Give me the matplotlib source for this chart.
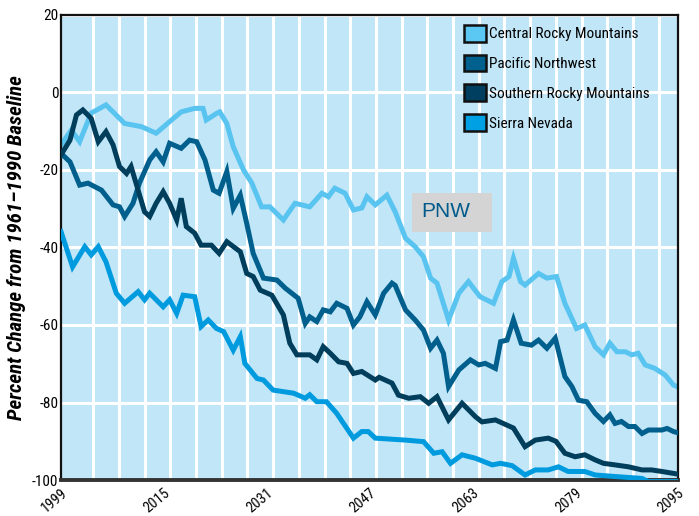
import matplotlib
matplotlib.use("Agg")
import matplotlib.pyplot as plt
from matplotlib import font_manager as fm
from matplotlib.patches import Patch, Rectangle
from matplotlib.ticker import FixedLocator

# ---------------- data ----------------
central_years = [1999.0, 2000.6, 2001.9, 2003.7, 2006.0, 2008.9, 2011.5, 2013.8, 2016.2, 2017.7,
                 2019.8, 2021.1, 2021.6, 2023.2, 2023.7, 2024.8, 2025.8, 2027.4, 2028.7, 2030.2,
                 2031.5, 2033.6, 2035.4, 2037.7, 2039.6, 2040.6, 2041.6, 2043.2, 2044.5, 2045.8,
                 2046.6, 2047.9, 2049.7, 2051.0, 2052.6, 2054.1, 2055.4, 2056.5, 2057.5, 2059.3,
                 2060.9, 2062.4, 2064.2, 2066.3, 2067.6, 2068.7, 2069.4, 2070.5, 2071.2, 2073.3,
                 2074.6, 2076.1, 2077.4, 2079.2, 2080.5, 2082.1, 2083.4, 2084.4, 2085.5, 2086.8,
                 2087.8, 2088.8, 2089.9, 2091.4, 2093.0, 2094.3, 2095.0]
central_vals = [-13.5, -9.7, -12.7, -5.3, -3.2, -8.0, -8.8, -10.5, -7.1, -5.0,
                -4.1, -4.1, -7.1, -5.4, -5.0, -8.0, -14.0, -20.0, -23.4, -29.5,
                -29.5, -32.9, -28.6, -29.5, -26.0, -26.9, -24.7, -26.0, -30.3, -29.8,
                -26.9, -29.0, -26.5, -30.8, -37.6, -39.8, -42.4, -47.9, -49.2, -58.7,
                -51.8, -48.8, -52.7, -54.4, -48.8, -47.5, -42.8, -48.8, -49.7, -46.7,
                -47.9, -47.5, -54.4, -60.9, -60.0, -65.6, -67.7, -64.7, -66.9, -66.9,
                -67.7, -67.3, -70.3, -71.2, -72.9, -75.5, -76.0]

pnw_years = [1999.0, 2000.4, 2001.9, 2003.2, 2005.3, 2007.1, 2008.1, 2008.9, 2010.2, 2011.2,
             2012.8, 2013.8, 2014.9, 2015.9, 2017.7, 2019.0, 2020.1, 2021.4, 2022.7, 2023.6,
             2024.8, 2025.8, 2026.9, 2027.9, 2028.9, 2030.5, 2032.6, 2033.9, 2035.9, 2037.0,
             2037.7, 2038.8, 2039.8, 2040.9, 2041.9, 2043.5, 2044.5, 2045.5, 2046.6, 2047.9,
             2049.2, 2050.5, 2051.0, 2052.6, 2054.1, 2055.4, 2056.5, 2057.5, 2058.5, 2059.3,
             2060.9, 2062.7, 2064.0, 2065.0, 2066.6, 2067.4, 2068.4, 2069.4, 2070.6, 2072.2,
             2073.3, 2074.6, 2075.9, 2077.4, 2078.5, 2079.5, 2080.8, 2082.1, 2083.4, 2084.4,
             2085.2, 2086.2, 2087.3, 2088.3, 2089.4, 2090.4, 2092.5, 2093.3, 2094.3, 2095.0]
pnw_vals = [-15.7, -17.9, -23.9, -23.4, -25.2, -29.0, -29.5, -32.0, -28.6, -23.4,
            -17.4, -15.3, -17.9, -13.1, -14.4, -12.3, -12.7, -17.4, -25.2, -26.0,
            -20.4, -29.9, -26.5, -33.8, -41.5, -47.9, -48.4, -50.5, -53.1, -59.6,
            -57.9, -59.1, -56.1, -56.6, -54.4, -55.7, -60.0, -57.9, -54.0, -57.4,
            -51.8, -49.2, -49.8, -56.1, -58.7, -61.3, -66.0, -63.9, -67.3, -75.9,
            -71.6, -69.0, -70.3, -69.9, -71.2, -64.3, -63.9, -58.7, -64.7, -65.2,
            -63.9, -66.0, -63.4, -73.3, -75.9, -79.4, -79.8, -82.8, -84.9, -83.2,
            -85.4, -84.9, -86.2, -86.2, -88.0, -87.1, -87.1, -86.7, -87.5, -87.8]

south_years = [1999.0, 2000.4, 2001.4, 2002.4, 2003.7, 2004.8, 2006.0, 2007.1, 2008.1, 2009.2,
               2009.9, 2011.0, 2012.0, 2012.8, 2013.8, 2014.9, 2015.9, 2017.0, 2017.7, 2018.5,
               2019.8, 2020.8, 2022.4, 2023.6, 2024.8, 2026.9, 2027.9, 2028.9, 2030.0, 2031.8,
               2033.6, 2034.6, 2035.7, 2037.7, 2038.8, 2039.8, 2040.9, 2042.2, 2043.5, 2044.5,
               2045.8, 2047.9, 2048.5, 2050.5, 2051.5, 2053.1, 2054.9, 2056.2, 2057.5, 2059.3,
               2061.4, 2063.5, 2064.5, 2066.6, 2069.4, 2071.2, 2072.8, 2074.8, 2076.0, 2077.4,
               2079.0, 2080.5, 2082.1, 2083.4, 2085.2, 2087.3, 2089.4, 2090.9, 2092.5, 2094.3,
               2095.0]
south_vals = [-16.1, -12.3, -5.8, -4.5, -6.7, -12.7, -10.1, -13.5, -19.1, -20.9,
              -19.1, -25.2, -30.8, -32.0, -28.6, -25.6, -28.6, -32.9, -27.3, -34.6,
              -36.3, -39.4, -39.4, -41.5, -38.5, -41.1, -46.7, -47.5, -51.0, -52.3,
              -57.4, -64.7, -67.7, -67.7, -69.0, -65.6, -67.3, -69.5, -69.9, -72.5,
              -72.0, -74.2, -73.5, -75.0, -78.1, -78.9, -78.5, -80.2, -78.5, -84.5,
              -80.2, -83.7, -85.0, -84.5, -86.6, -91.4, -89.7, -89.2, -90.0, -93.1,
              -94.0, -93.5, -94.8, -95.7, -96.1, -96.6, -97.4, -97.4, -97.8, -98.3,
              -98.5]

sierra_years = [1999.0, 2000.8, 2002.7, 2003.7, 2004.8, 2006.0, 2007.6, 2008.9, 2011.0, 2012.0,
                2012.8, 2014.9, 2015.9, 2017.0, 2018.0, 2019.8, 2020.8, 2021.9, 2023.2, 2024.3,
                2025.8, 2026.9, 2027.6, 2029.5, 2030.5, 2032.0, 2033.6, 2035.2, 2037.0, 2037.7,
                2038.8, 2040.3, 2041.9, 2044.5, 2045.8, 2046.8, 2047.9, 2052.6, 2055.4, 2057.0,
                2058.3, 2059.6, 2061.4, 2063.5, 2066.1, 2067.4, 2069.2, 2071.2, 2072.8, 2074.8,
                2076.4, 2077.9, 2080.5, 2082.1, 2085.2, 2089.4, 2090.4, 2095.0]
sierra_vals = [-35.9, -45.0, -39.8, -41.9, -39.8, -43.7, -51.8, -54.4, -51.4, -53.5,
               -51.8, -55.3, -53.5, -57.0, -52.3, -52.7, -60.4, -58.7, -60.9, -61.7,
               -66.5, -63.0, -69.9, -73.8, -74.2, -76.8, -77.2, -77.6, -78.9, -78.0,
               -79.8, -79.8, -82.8, -89.2, -87.5, -87.5, -89.2, -89.7, -90.1, -93.1,
               -92.7, -95.7, -93.5, -94.4, -96.1, -95.7, -96.3, -98.7, -97.4, -97.4,
               -96.6, -97.8, -97.8, -98.7, -99.1, -99.6, -100.4, -100.4]

series_names = ["Central Rocky Mountains", "Pacific Northwest",
                "Southern Rocky Mountains", "Sierra Nevada"]
xtick_labels = [1999, 2015, 2031, 2047, 2063, 2079, 2095]
ytick_values = [20, 0, -20, -40, -60, -80, -100]
annotation_text = "PNW"
ylabel_text = "Percent Change from 1961\u20131990 Baseline"

# ---------------- pick a condensed font if one is installed ----------------
_installed = [(f.name, f.stretch) for f in fm.fontManager.ttflist]
_names = {n for n, s in _installed}
narrow_family = None
narrow_stretch = "normal"
for cand in ["Liberation Sans Narrow", "Arial Narrow", "DejaVu Sans Condensed",
             "Roboto Condensed", "Open Sans Condensed", "Noto Sans Condensed"]:
    if cand in _names:
        narrow_family = cand
        break
if narrow_family is None:
    for n, s in _installed:
        if n in ("DejaVu Sans", "Noto Sans", "Open Sans", "Roboto") and "condensed" in str(s):
            narrow_family, narrow_stretch = n, "condensed"
            break
if narrow_family is None:
    narrow_family = "Roboto" if "Roboto" in _names else "DejaVu Sans"
narrow = [narrow_family, "DejaVu Sans"]
is_narrow = narrow_family not in ("Roboto", "DejaVu Sans")
k = 1.0 if is_narrow else 0.85

# ---------------- styling ----------------
c_central = "#5ac4f0"
c_pnw = "#005f8c"
c_south = "#003e5c"
c_sierra = "#009bde"
bg = "#c0e6f8"

fig = plt.figure(figsize=(6.99, 5.16), dpi=100)
ax = fig.add_axes([61 / 699, 1 - 480 / 516, (678 - 61) / 699, (480 - 15) / 516])
ax.set_facecolor(bg)

lw = 3.6
ax.plot(central_years, central_vals, color=c_central, lw=lw, solid_joinstyle="miter", zorder=2)
ax.plot(sierra_years, sierra_vals, color=c_sierra, lw=lw, solid_joinstyle="miter", zorder=3)
ax.plot(pnw_years, pnw_vals, color=c_pnw, lw=lw, solid_joinstyle="miter", zorder=4)
ax.plot(south_years, south_vals, color=c_south, lw=lw, solid_joinstyle="miter", zorder=5)

ax.set_xlim(1999, 2095)
ax.set_ylim(-100, 20)

ax.set_xticks(xtick_labels)
ax.set_xticklabels([str(v) for v in xtick_labels], rotation=40, ha="right",
                   rotation_mode="anchor", family=narrow, stretch=narrow_stretch,
                   fontsize=10.5 * k)
ax.xaxis.set_minor_locator(FixedLocator(list(range(2004, 2095, 4))))
ax.set_yticks(ytick_values)
ax.set_yticklabels([str(v) for v in ytick_values], family=narrow, stretch=narrow_stretch,
                   fontsize=11 * k)
ax.tick_params(axis="both", which="both", length=0)
ax.tick_params(axis="y", pad=2)
ax.tick_params(axis="x", pad=4)

ax.grid(False)
ax.xaxis.grid(True, which="minor", color="white", lw=2.2, zorder=1)
ax.yaxis.grid(True, which="major", color="white", lw=2.2, zorder=1)
ax.set_axisbelow(True)

for side in ["left", "top", "right"]:
    ax.spines[side].set_color("#111111")
    ax.spines[side].set_linewidth(1.6)
ax.spines["bottom"].set_color("#333333")
ax.spines["bottom"].set_linewidth(2.8)

ax.set_ylabel(ylabel_text, family=narrow, stretch=narrow_stretch,
              fontsize=15 * k, fontweight="bold", fontstyle="italic", labelpad=4)

# legend
fs = 11 * k
handles = [Patch(facecolor=c, edgecolor="#111111", linewidth=1.8)
           for c in ["#5ac8f2", "#00608e", "#003f5f", "#00a0e4"]]
px = fs * 100 / 72
leg = fig.legend(handles, series_names, loc="upper left",
                 bbox_to_anchor=(464 / 699, 1 - 25 / 516), frameon=False,
                 prop={"family": narrow, "stretch": narrow_stretch, "size": fs},
                 handlelength=22 / px, handleheight=20 / px,
                 labelspacing=13 / px, handletextpad=3 / px,
                 borderpad=0, borderaxespad=0)

# PNW annotation box
ax.add_patch(Rectangle(((412 - 61) / 617, 1 - (232 - 15) / 465), 80 / 617, 39 / 465,
                       transform=ax.transAxes, facecolor="#d4d4d4", edgecolor="none",
                       zorder=6))
ax.text((421 - 61) / 617, 1 - (212 - 15) / 465, annotation_text, transform=ax.transAxes,
        ha="left", va="center", fontsize=15, color="#005a8c",
        family=["Liberation Sans", "DejaVu Sans"], zorder=7)

fig.savefig("out.png", dpi=100)
